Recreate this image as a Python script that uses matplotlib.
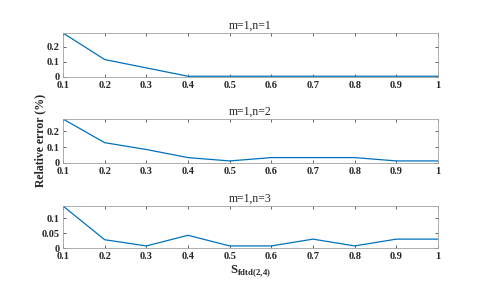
import numpy as np
import matplotlib.pyplot as plt

# S_fdtd(2,4) values and relative errors
s_vals = [0.1, 0.2, 0.3, 0.4, 0.5, 0.6, 0.7, 0.8, 0.9, 1.0]
err_n1 = [0.29, 0.115, 0.06, 0.005, 0.005, 0.005, 0.005, 0.005, 0.005, 0.005]
err_n2 = [0.277, 0.128, 0.085, 0.034, 0.013, 0.034, 0.034, 0.034, 0.013, 0.013]
err_n3 = [0.142, 0.028, 0.007, 0.043, 0.007, 0.007, 0.03, 0.007, 0.03, 0.03]
titles = ['m=1,n=1', 'm=1,n=2', 'm=1,n=3']
yticks = [[0, 0.1, 0.2], [0, 0.1, 0.2], [0, 0.05, 0.1]]
xticks = [0.1, 0.2, 0.3, 0.4, 0.5, 0.6, 0.7, 0.8, 0.9, 1]

plt.rcParams['font.family'] = ['Liberation Serif', 'DejaVu Serif']
plt.rcParams['mathtext.fontset'] = 'custom'
plt.rcParams['mathtext.rm'] = 'Liberation Serif'
plt.rcParams['mathtext.bf'] = 'Liberation Serif:bold'

fig = plt.figure(figsize=(4.85, 2.87), dpi=100)
W, H = 485, 287
# axes boxes in pixels (left, top, right, bottom)
boxes = [(63, 33, 438, 77), (63, 119, 438, 163), (63, 206, 438, 248)]

for box, data, title, yt in zip(boxes, [err_n1, err_n2, err_n3], titles, yticks):
    l, t, r, b = box
    ax = fig.add_axes([l / W, 1 - b / H, (r - l) / W, (b - t) / H])
    ax.plot(s_vals, data, color='#0072BD', linewidth=0.9)
    ax.set_xlim(0.1, 1)
    ax.set_ylim(0, max(data))
    ax.set_xticks(xticks)
    ax.set_xticklabels([('%g' % v) for v in xticks])
    ax.set_yticks(yt)
    ax.set_yticklabels([('%g' % v) for v in yt])
    ax.tick_params(direction='in', length=2.5, width=0.5, labelsize=7.5,
                   top=True, right=True, colors='#262626')
    ax.tick_params(axis='x', pad=3)
    ax.tick_params(axis='y', pad=2.5)
    for lbl in ax.get_xticklabels() + ax.get_yticklabels():
        lbl.set_fontweight('bold')
    for sp in ax.spines.values():
        sp.set_color('#a0a0a0')
        sp.set_linewidth(0.6)
    ax.set_title(title, fontsize=8.5, pad=3, color='#262626')

fig.text(40 / W, 1 - 140 / H, 'Relative error (%)', rotation=90, ha='center',
         va='center', fontsize=8.5, fontweight='bold', color='#262626')
fig.text(250 / W, 1 - 271 / H, r'S$_{\mathbf{fdtd(2{,}4)}}$', ha='center',
         va='center', fontsize=9, fontweight='bold', color='#262626')

fig.savefig('out.png', dpi=100)
